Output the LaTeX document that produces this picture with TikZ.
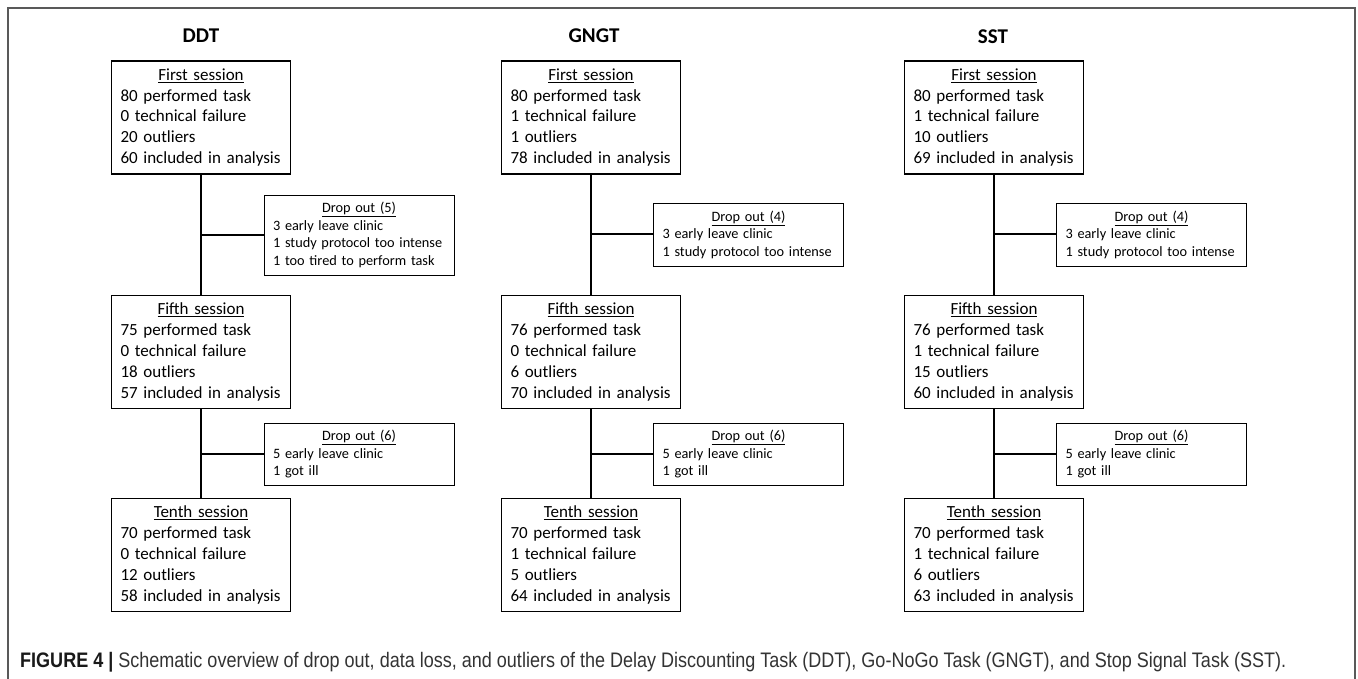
\documentclass[tikz,border=0pt]{standalone}
\usepackage{fontspec}
\usepackage{graphicx}
\setmainfont{Carlito}
\newfontfamily\capfont{Liberation Sans}
\newcommand\hdr[2]{\makebox[#1][c]{\underline{#2}}}
\tikzset{
  sess/.style={draw, line width=1.8pt, minimum width=179pt, minimum height=113pt, inner sep=0pt,
    text width=161pt, align=left, font=\fontsize{17}{20.8}\selectfont},
  dropbox/.style={draw, line width=0.8pt, minimum width=190pt, inner sep=0pt,
    text width=172pt, align=left, font=\fontsize{14.3}{17.5}\selectfont},
  conn/.style={line width=2pt},
  ttl/.style={font=\fontsize{21}{25}\selectfont\bfseries},
  frame/.style={draw=black!65, line width=1.4pt}
}
\begin{document}
\begin{tikzpicture}[x=1pt,y=-1pt]
\useasboundingbox (0,0) rectangle (1358,679);
\fill[white] (0,0) rectangle (1358,679);
\draw[frame] (8,684) -- (8,8) -- (1355,8) -- (1355,684);

% ---- DDT ----
\node[ttl] (tD) at (201,36) {DDT};
\node[sess] (D1) at (201,117.5) {\hdr{161pt}{First session}\\80 performed task\\0 technical failure\\20 outliers\\60 included in analysis};
\node[dropbox, minimum height=80pt] (Dd1) at (359,235) {\hdr{172pt}{Drop out (5)}\\3 early leave clinic\\1 study protocol too intense\\1 too tired to perform task};
\node[sess] (D5) at (201,352) {\hdr{161pt}{Fifth session}\\75 performed task\\0 technical failure\\18 outliers\\57 included in analysis};
\node[dropbox, minimum height=62pt] (Dd2) at (359,454) {\hdr{172pt}{Drop out (6)}\\5 early leave clinic\\1 got ill};
\node[sess] (D10) at (201,555) {\hdr{161pt}{Tenth session}\\70 performed task\\0 technical failure\\12 outliers\\58 included in analysis};
\draw[conn] (D1.south) -- (D5.north);
\draw[conn] (D5.south) -- (D10.north);
\draw[conn] (Dd1.west) -- (Dd1.west -| D1.south);
\draw[conn] (Dd2.west) -- (Dd2.west -| D5.south);

% ---- GNGT ----
\node[ttl] (tG) at (594,36) {GNGT};
\node[sess] (G1) at (591,117.5) {\hdr{161pt}{First session}\\80 performed task\\1 technical failure\\1 outliers\\78 included in analysis};
\node[dropbox, minimum height=63pt] (Gd1) at (748.5,234.5) {\hdr{172pt}{Drop out (4)}\\3 early leave clinic\\1 study protocol too intense};
\node[sess] (G5) at (591,352) {\hdr{161pt}{Fifth session}\\76 performed task\\0 technical failure\\6 outliers\\70 included in analysis};
\node[dropbox, minimum height=62pt] (Gd2) at (748.5,454) {\hdr{172pt}{Drop out (6)}\\5 early leave clinic\\1 got ill};
\node[sess] (G10) at (591,555) {\hdr{161pt}{Tenth session}\\70 performed task\\1 technical failure\\5 outliers\\64 included in analysis};
\draw[conn] (G1.south) -- (G5.north);
\draw[conn] (G5.south) -- (G10.north);
\draw[conn] (Gd1.west) -- (Gd1.west -| G1.south);
\draw[conn] (Gd2.west) -- (Gd2.west -| G5.south);

% ---- SST ----
\node[ttl] (tS) at (993,37) {SST};
\node[sess] (S1) at (994,117.5) {\hdr{161pt}{First session}\\80 performed task\\1 technical failure\\10 outliers\\69 included in analysis};
\node[dropbox, minimum height=63pt] (Sd1) at (1151.5,234.5) {\hdr{172pt}{Drop out (4)}\\3 early leave clinic\\1 study protocol too intense};
\node[sess] (S5) at (994,352) {\hdr{161pt}{Fifth session}\\76 performed task\\1 technical failure\\15 outliers\\60 included in analysis};
\node[dropbox, minimum height=62pt] (Sd2) at (1151.5,454) {\hdr{172pt}{Drop out (6)}\\5 early leave clinic\\1 got ill};
\node[sess] (S10) at (994,555) {\hdr{161pt}{Tenth session}\\70 performed task\\1 technical failure\\6 outliers\\63 included in analysis};
\draw[conn] (S1.south) -- (S5.north);
\draw[conn] (S5.south) -- (S10.north);
\draw[conn] (Sd1.west) -- (Sd1.west -| S1.south);
\draw[conn] (Sd2.west) -- (Sd2.west -| S5.south);

% ---- caption ----
\node[anchor=base west, inner sep=0pt, text=black!80] (cap) at (20,667)
  {\resizebox{1266pt}{\height}{\capfont\fontsize{21}{25}\selectfont\textbf{\color{black!90}FIGURE 4 |} Schematic overview of drop out, data loss, and outliers of the Delay Discounting Task (DDT), Go-NoGo Task (GNGT), and Stop Signal Task (SST).}};
\end{tikzpicture}
\end{document}
